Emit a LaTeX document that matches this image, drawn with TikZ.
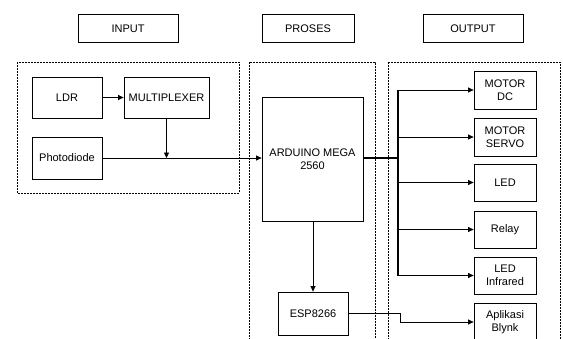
\documentclass[tikz,border=0pt]{standalone}
\usepackage{fontspec}
\setmainfont{Liberation Sans}
\usetikzlibrary{arrows.meta}
\begin{document}
\begin{tikzpicture}[x=1pt,y=-1pt,
  box/.style={draw, line width=0.8pt, inner sep=0pt, align=center, font=\fontsize{11}{12.5}\selectfont},
  grp/.style={draw, line width=0.6pt, dash pattern=on 2pt off 1pt},
  conn/.style={line width=0.7pt},
  arr/.style={conn, -{Triangle[length=5.5pt,width=5pt]}}]
\useasboundingbox (0,0) rectangle (563,338);
\clip (0,0) rectangle (563,338);
\fill[white] (0,0) rectangle (563,338);
% headers
\node[box, minimum width=100pt, minimum height=28pt] (hin) at (128,28.5) {INPUT};
\node[box, minimum width=92pt, minimum height=28pt] (hpr) at (308,28.5) {PROSES};
\node[box, minimum width=100pt, minimum height=28pt] (hout) at (473,28.5) {OUTPUT};
% groups
\draw[grp] (17,62) rectangle (239,193);
\draw[grp] (249,62) rectangle (375,350);
\draw[grp] (388,62) rectangle (560,350);
% input
\node[box, minimum width=70pt, minimum height=41pt] (ldr) at (67,97.5) {LDR};
\node[box, minimum width=85pt, minimum height=41pt] (mux) at (166.5,97.5) {MULTIPLEXER};
\node[box, minimum width=70pt, minimum height=42pt] (pd) at (67,158) {Photodiode};
% process
\node[box, minimum width=101pt, minimum height=124pt] (ard) at (312.5,159) {ARDUINO MEGA\\2560};
\node[box, minimum width=70pt, minimum height=43pt] (esp) at (313,313.5) {ESP8266};
% output
\node[box, minimum width=62pt, minimum height=38pt] (mdc) at (505,90) {MOTOR\\DC};
\node[box, minimum width=62pt, minimum height=38pt] (msv) at (505,137) {MOTOR\\SERVO};
\node[box, minimum width=62pt, minimum height=37pt] (led) at (505,182.5) {LED};
\node[box, minimum width=62pt, minimum height=37pt] (rly) at (505,229.5) {Relay};
\node[box, minimum width=62pt, minimum height=37pt] (ledi) at (505,275.5) {LED\\Infrared};
\node[box, minimum width=62pt, minimum height=38pt] (blk) at (505,322) {Aplikasi\\Blynk};
% coordinates
\coordinate (j1) at (166.5,158);
\coordinate (bus) at (398,158);
\coordinate (bt) at (398,90);
\coordinate (bb) at (398,275.5);
\coordinate (e1) at (400,313.5);
\coordinate (e2) at (400,322);
% connectors
\draw[arr] (ldr.east) -- (mux.west);
\draw[arr] (mux.south) -- (j1);
\draw[arr] (pd.east) -- (ard.west |- pd.east);
\draw[line width=1.6pt] (ard.east |- bus) -- (bus);
\draw[line width=1.2pt] (bt) -- (bb);
\draw[arr] (bt) -- (mdc.west);
\draw[arr] (398,137) -- (msv.west);
\draw[arr] (398,182.5) -- (led.west);
\draw[arr] (398,229.5) -- (rly.west);
\draw[arr] (bb) -- (ledi.west);
\draw[arr] (ard.south -| esp.north) -- (esp.north);
\draw[arr] (esp.east) -- (e1) -- (e2) -- (blk.west);
\end{tikzpicture}
\end{document}
